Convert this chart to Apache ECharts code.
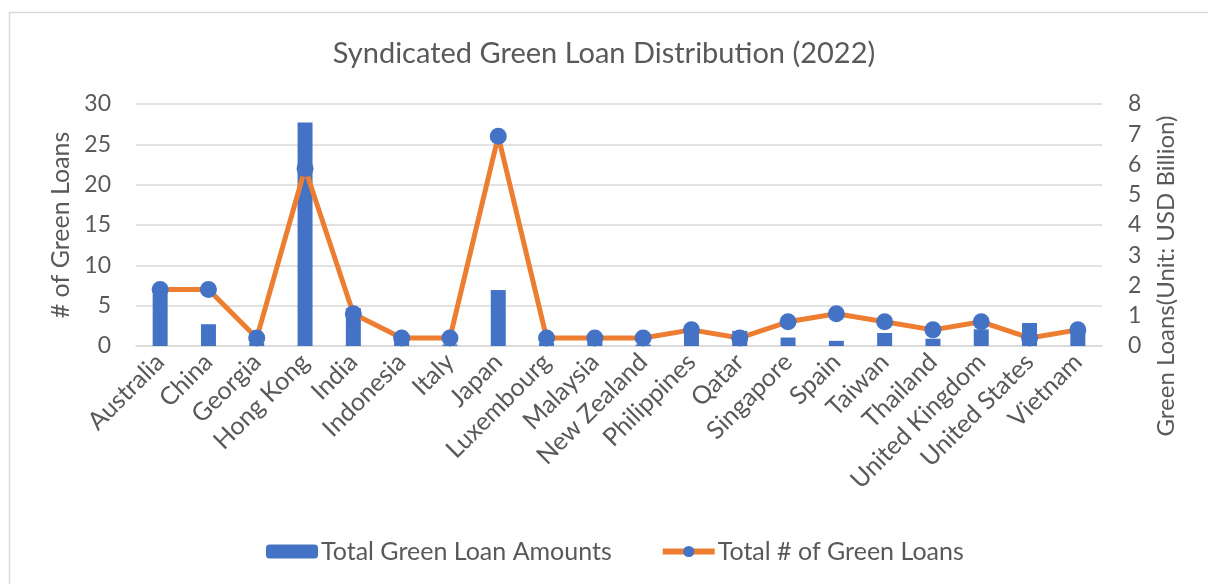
<!DOCTYPE html>
<html>
<head>
<meta charset="utf-8">
<script src="https://cdn.jsdelivr.net/npm/echarts@6/dist/echarts.min.js"></script>
<style>
html,body{margin:0;padding:0;background:#fff;}
#chart{width:1208px;height:584px;}
</style>
</head>
<body>
<div id="chart"></div>
<script>
const categories = ["Australia","China","Georgia","Hong Kong","India","Indonesia","Italy","Japan","Luxembourg","Malaysia","New Zealand","Philippines","Qatar","Singapore","Spain","Taiwan","Thailand","United Kingdom","United States","Vietnam"];
const loanAmounts = [1.72,0.72,0.1,7.39,1.25,0.2,0.05,1.85,0.1,0.25,0.05,0.6,0.5,0.28,0.17,0.43,0.24,0.55,0.76,0.6];
const loanCounts = [7,7,1,22,4,1,1,26,1,1,1,2,1,3,4,3,2,3,1,2];
const leftTicks = {min:0,max:30,interval:5};
const rightTicks = {min:0,max:8,interval:1};

const FONT = 'Lato';
const TXT = '#595959';
const chart = echarts.init(document.getElementById('chart'), null, {renderer:'canvas'});
chart.setOption({
  animation:false,
  textStyle:{fontFamily:FONT,color:TXT},
  title:{
    text:'Syndicated Green Loan Distribution (2022)',
    left:'center', top:34,
    textStyle:{fontFamily:FONT,fontSize:29,fontWeight:'normal',color:TXT}
  },
  graphic:[
    {type:'rect',shape:{x:9.5,y:12.5,width:1400,height:800},style:{fill:'none',stroke:'#D9D9D9',lineWidth:1.5},silent:true,z:-1},
    {type:'text',x:1166,y:276,rotation:Math.PI/2,style:{text:'Green Loans(Unit: USD Billion)',fontFamily:FONT,fontSize:24,fill:TXT,align:'center',verticalAlign:'middle'}}
  ],
  legend:{
    bottom:15, left:261, itemGap:48, itemWidth:52, itemHeight:14,
    textStyle:{fontFamily:FONT,fontSize:25,color:TXT,padding:[0,0,0,-2]},
    lineStyle:{width:6},
    data:['Total Green Loan Amounts','Total # of Green Loans']
  },
  grid:{left:136,right:106,top:104,bottom:238,containLabel:false},
  xAxis:{
    type:'category', data:categories,
    axisTick:{show:false},
    axisLine:{lineStyle:{color:'#D9D9D9',width:1.5}},
    axisLabel:{rotate:45,interval:0,fontFamily:FONT,fontSize:25,color:TXT,margin:12}
  },
  yAxis:[
    {type:'value',min:leftTicks.min,max:leftTicks.max,interval:leftTicks.interval,
     name:'# of Green Loans',nameLocation:'middle',nameGap:60,nameRotate:90,
     nameTextStyle:{fontFamily:FONT,fontSize:25,color:TXT},
     axisLine:{show:false},axisTick:{show:false},
     axisLabel:{fontFamily:FONT,fontSize:23,color:TXT,margin:25},
     splitLine:{lineStyle:{color:'#D9D9D9',width:1.5}}},
    {type:'value',min:rightTicks.min,max:rightTicks.max,interval:rightTicks.interval,
     axisLine:{show:false},axisTick:{show:false},
     axisLabel:{fontFamily:FONT,fontSize:23,color:TXT,margin:26},
     splitLine:{show:false}}
  ],
  series:[
    {name:'Total Green Loan Amounts',type:'bar',yAxisIndex:1,data:loanAmounts,
     barWidth:15,itemStyle:{color:'#4472C4'},z:2},
    {name:'Total # of Green Loans',type:'line',yAxisIndex:0,data:loanCounts,
     symbol:'circle',symbolSize:17,
     lineStyle:{color:'#ED7D31',width:5},
     itemStyle:{color:'#4472C4'},z:3}
  ]
});
</script>
</body>
</html>
